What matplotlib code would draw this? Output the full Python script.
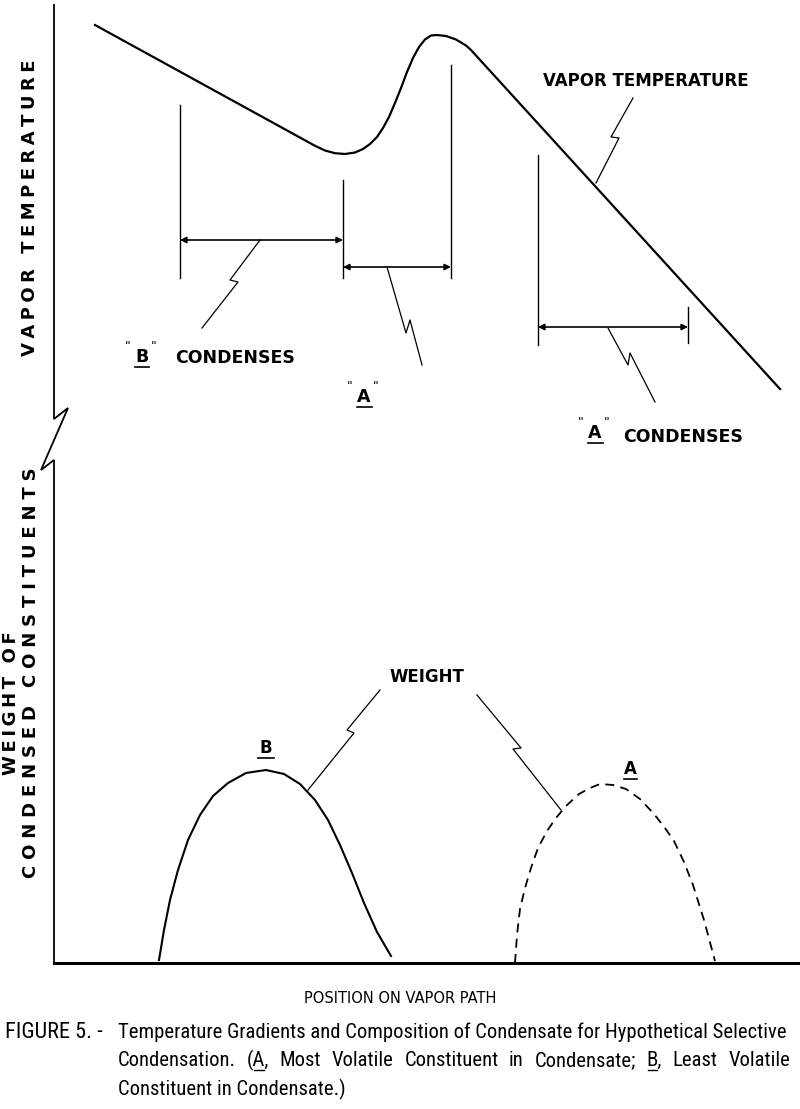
import matplotlib
matplotlib.use("Agg")
import matplotlib.pyplot as plt
from matplotlib import font_manager

# diagram geometry, in figure-pixel units (x right, y down)
axis_x = [54, 54, 68, 41, 54, 54, 800]
axis_y = [5, 419, 408, 470, 460, 963, 963]

vapor_x = [95, 315, 325, 335, 345, 355, 363, 370, 377, 383, 389, 395, 401, 407, 413,
           419, 425, 431, 437, 446, 456, 466, 471, 780]
vapor_y = [25, 145.8, 150.5, 153.2, 154, 152.5, 149, 144, 137, 128, 117, 103, 88, 72, 58,
           47, 39.5, 35.5, 35, 36, 39.5, 45.5, 50, 389]

weight_b_x = [159, 164, 170, 178, 188, 200, 213, 228, 246, 266, 284, 300, 315, 328, 340,
              352, 364, 377, 391]
weight_b_y = [960, 930, 900, 870, 840, 815, 796, 783, 773, 770, 774, 784, 800, 820, 845,
              873, 903, 932, 956]

weight_a_x = [515, 517, 520, 525, 531, 538, 547, 556, 566, 579, 590, 600, 613, 626, 640,
              654, 665, 674, 684, 693, 704, 715]
weight_a_y = [963, 935, 909, 888, 868, 848, 831, 818, 806, 794, 788, 784, 785, 789, 799,
              814, 828, 841, 862, 885, 920, 961]

# extension lines: x, y_top, y_bottom
ext_x = [180, 343, 451, 538, 688]
ext_top = [105, 180, 65, 155, 307]
ext_bot = [278, 278, 278, 345, 343]

# dimension arrows: x_start, x_end, y
dim_x0 = [180, 343, 538]
dim_x1 = [343, 451, 688]
dim_y = [240, 267, 327]

# zig-zag leader lines
leaders = {
    "b_cond": ([260, 230, 238, 202], [240, 280, 282, 328]),
    "a_mid": ([387, 406, 410, 422], [267, 333, 320, 365]),
    "a_cond": ([608, 628, 630, 655], [328, 365, 353, 402]),
    "vapor": ([596, 619, 611, 633], [183, 138, 137, 98]),
    "w_left": ([308, 354, 347, 380], [790, 733, 730, 690]),
    "w_right": ([477, 521, 513, 561], [695, 748, 749, 810]),
}

caption_head = "FIGURE 5. -"
caption_lines = [
    "Temperature Gradients and Composition of Condensate for Hypothetical Selective",
    "Condensation. (A, Most Volatile Constituent in Condensate; B, Least Volatile",
    "Constituent in Condensate.)",
]

names = {f.name for f in font_manager.fontManager.ttflist}
narrow = "DejaVu Sans"
for cand in ["Liberation Sans Narrow", "Roboto Condensed", "Open Sans Condensed", "Roboto"]:
    if cand in names:
        narrow = cand
        break


def track(s, sp):
    return sp.join(s)


fig = plt.figure(figsize=(8, 11.09), dpi=100)
ax = fig.add_axes([0, 0, 1, 1])
ax.set_xlim(0, 800)
ax.set_ylim(1109, 0)
ax.axis("off")

k = "black"
ax.plot(axis_x, axis_y, color=k, lw=1.3, solid_joinstyle="miter")
ax.plot([54, 800], [963, 963], color=k, lw=2.2)
ax.plot(vapor_x, vapor_y, color=k, lw=1.6, solid_joinstyle="round")
ax.plot(weight_b_x, weight_b_y, color=k, lw=1.5, solid_joinstyle="round")
ax.plot(weight_a_x, weight_a_y, color=k, lw=1.3, ls=(0, (5, 3.5)))

for x, t, b in zip(ext_x, ext_top, ext_bot):
    ax.plot([x, x], [t, b], color=k, lw=1.0)

for x0, x1, y in zip(dim_x0, dim_x1, dim_y):
    ax.annotate("", xy=(x1, y), xytext=(x0, y),
                arrowprops=dict(arrowstyle="<|-|>", color=k, lw=1.2,
                                mutation_scale=9, shrinkA=0, shrinkB=0))

for lx, ly in leaders.values():
    ax.plot(lx, ly, color=k, lw=0.9)

bold = dict(color=k, fontweight="bold", family="DejaVu Sans")

# axis titles
ax.text(30, 208, track("VAPOR TEMPERATURE", "\u2005"), rotation=90, ha="center", va="center",
        fontsize=13, **bold)
ax.text(11, 703, track("WEIGHT OF", "\u2009"), rotation=90, ha="center", va="center",
        fontsize=13, **bold)
ax.text(31, 673, track("CONDENSED CONSTITUENTS", "\u2004"), rotation=90, ha="center", va="center",
        fontsize=13, **bold)

# in-diagram labels
ax.text(646, 86, "VAPOR TEMPERATURE", ha="center", va="baseline", fontsize=12, **bold)
ax.text(427, 682, "WEIGHT", ha="center", va="baseline", fontsize=12, **bold)
ax.text(175, 363, "CONDENSES", ha="left", va="baseline", fontsize=12.5, **bold)
ax.text(623, 442, "CONDENSES", ha="left", va="baseline", fontsize=12.5, **bold)


def quoted(x, y, letter, w, size=12.5, quotes=True):
    ax.text(x, y, letter, ha="center", va="baseline", fontsize=size, **bold)
    ax.plot([x - w / 2, x + w / 2], [y + 5, y + 5], color=k, lw=1.2)
    if quotes:
        for dx in (-14, 12):
            ax.text(x + dx, y - 16, '"', ha="center", va="center", fontsize=9,
                    color=k, style="italic", family="DejaVu Sans")


quoted(142, 362, "B", 14)
quoted(364, 402, "A", 15)
quoted(595, 438, "A", 15)
quoted(266, 753, "B", 16, size=12, quotes=False)
quoted(630, 774, "A", 13, size=12, quotes=False)

ax.text(400, 1003, "POSITION ON VAPOR PATH", ha="center", va="baseline", fontsize=10.5,
        color=k, family="DejaVu Sans")

# caption
fig.canvas.draw()
r = fig.canvas.get_renderer()


def width(s, size):
    t = ax.text(0, 0, s, family=narrow, fontsize=size)
    wd = t.get_window_extent(r).width
    t.remove()
    return wd


left, right = 118, 790
cap_size = 14 * (right - left) / width(caption_lines[0], 14)
cap = dict(color=k, family=narrow, fontsize=cap_size, va="baseline", ha="left")
ax.text(5, 1038, caption_head, color=k, family=narrow, fontsize=cap_size * 1.08,
        va="baseline", ha="left")
ax.text(left, 1038, caption_lines[0], **cap)
ax.text(left, 1095, caption_lines[2], **cap)

# second line is justified to the right margin, A and B underlined
words = caption_lines[1].split(" ")
ww = [width(wd, cap_size) for wd in words]
gap = (right - left - sum(ww)) / (len(words) - 1)
x = left
for wd, wdt in zip(words, ww):
    ax.text(x, 1066, wd, **cap)
    if wd in ("(A,", "B,"):
        pre = wd[:wd.index(wd.strip("(,")[0])]
        x0 = x + (width(pre + ".", cap_size) - width(".", cap_size) if pre else 0)
        x1 = x0 + width(wd.strip("(,"), cap_size)
        ax.plot([x0 + 1, x1 - 1], [1070, 1070], color=k, lw=1.0)
    x += wdt + gap

fig.savefig("out.png", dpi=100)
